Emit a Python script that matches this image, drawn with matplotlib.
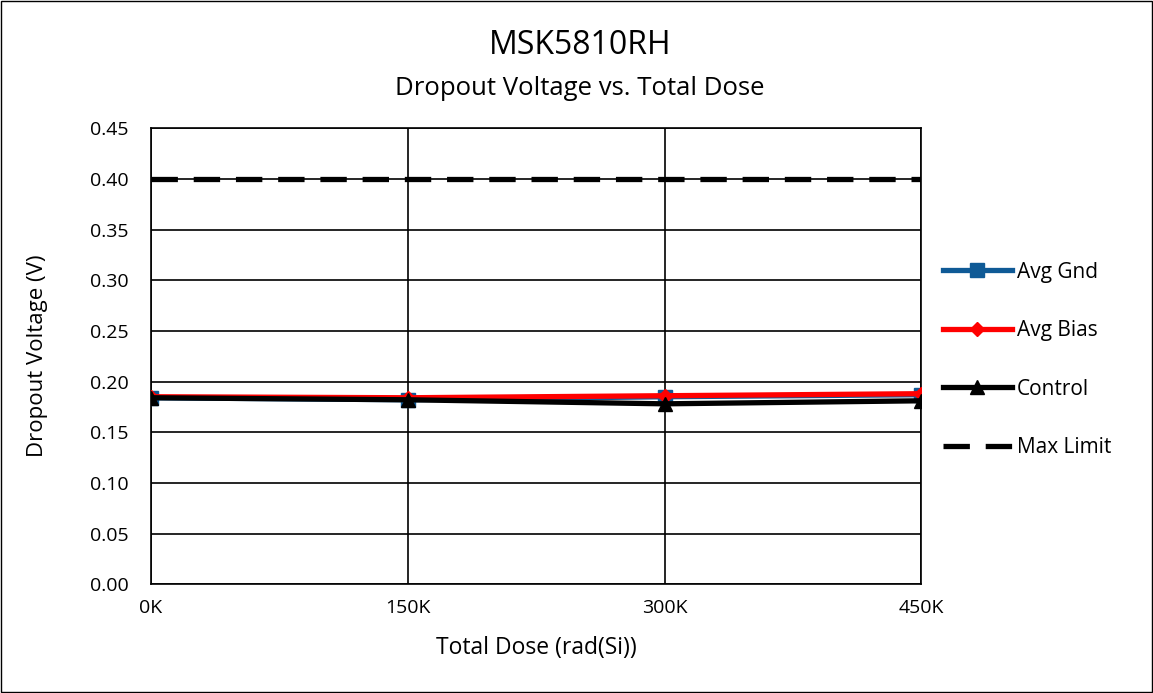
import numpy as np
import matplotlib.pyplot as plt
from matplotlib.patches import Rectangle

plt.rcParams['font.family'] = ['Open Sans', 'DejaVu Sans']

dose = [0, 150, 300, 450]
dose_labels = ['0K', '150K', '300K', '450K']
avg_gnd = [0.184, 0.182, 0.185, 0.187]
avg_bias = [0.185, 0.184, 0.186, 0.188]
control = [0.184, 0.182, 0.178, 0.181]
max_limit = [0.40, 0.40, 0.40, 0.40]

fig = plt.figure(figsize=(11.53, 6.93), dpi=100)
ax = fig.add_axes([0.131, 0.157, 0.668, 0.658])

ax.plot(dose, max_limit, color='black', lw=3.8, ls=(0, (5, 3)), label='Max Limit', zorder=3)
ax.plot(dose, avg_gnd, color='#0f5a96', lw=3.8, marker='s', ms=10, label='Avg Gnd', zorder=4)
ax.plot(dose, avg_bias, color='#ff0000', lw=3.8, marker='D', ms=7.5, label='Avg Bias', zorder=5)
ax.plot(dose, control, color='black', lw=3.8, marker='^', ms=10, label='Control', zorder=6)

ax.set_xlim(0, 450)
ax.set_ylim(0, 0.45)
ax.set_xticks(dose)
ax.set_xticklabels(dose_labels)
ax.set_yticks(np.arange(0, 0.451, 0.05))
ax.yaxis.set_major_formatter(plt.FormatStrFormatter('%.2f'))
ax.tick_params(labelsize=14, length=0)
ax.tick_params(axis='x', pad=11)
ax.tick_params(axis='y', pad=16)
ax.grid(True, color='black', lw=1.2)
for s in ax.spines.values():
    s.set_color('black')
    s.set_linewidth(1.2)

ax.set_xlabel('Total Dose (rad(Si))', fontsize=16.5, labelpad=13)
ax.set_ylabel('Dropout Voltage (V)', fontsize=16, labelpad=30)

fig.text(0.503, 0.934, 'MSK5810RH', ha='center', va='center', fontsize=23)
fig.text(0.503, 0.873, 'Dropout Voltage vs. Total Dose', ha='center', va='center', fontsize=18.5)

h, l = ax.get_legend_handles_labels()
order = [1, 2, 3, 0]
leg = ax.legend([h[i] for i in order], [l[i] for i in order],
                loc='center left', bbox_to_anchor=(1.004, 0.492), frameon=False,
                fontsize=15, handlelength=3.3, handletextpad=0.25, labelspacing=1.8)

fig.add_artist(Rectangle((0.001, 0.001), 0.998, 0.997, transform=fig.transFigure,
                         fill=False, edgecolor='black', lw=1))

fig.savefig('out.png', dpi=100)
